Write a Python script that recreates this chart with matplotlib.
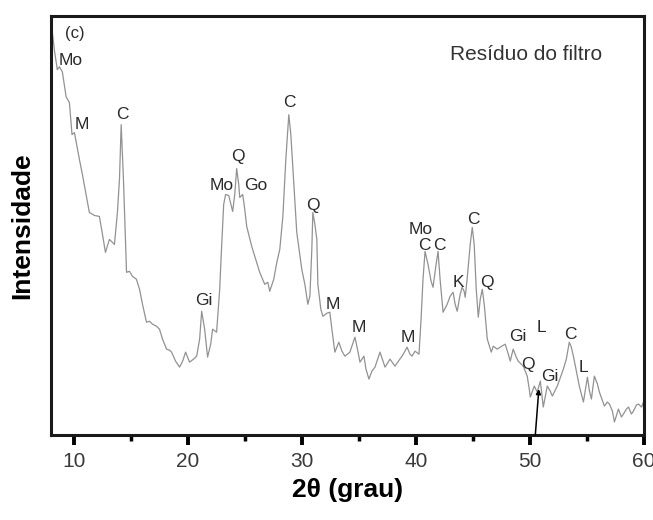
import matplotlib
matplotlib.use("Agg")
import matplotlib.pyplot as plt
from matplotlib.ticker import MultipleLocator

plt.rcParams['font.family'] = ['Liberation Sans', 'DejaVu Sans']

# difratograma (2theta em graus, intensidade em u.a.)
two_theta = [8.10, 8.30, 8.56, 8.74, 9.00, 9.33, 9.62, 9.85, 10.06, 10.50,
             10.76, 11.08, 11.37, 11.81, 12.25, 12.52, 12.78, 13.13, 13.57, 13.83,
             14.01, 14.16, 14.36, 14.63, 14.89, 15.15, 15.50, 15.77, 16.03, 16.38,
             16.65, 16.91, 17.26, 17.52, 17.79, 18.14, 18.40, 18.58, 18.93, 19.28,
             19.55, 19.81, 20.16, 20.51, 20.78, 21.04, 21.22, 21.48, 21.74, 22.01,
             22.18, 22.53, 22.80, 22.97, 23.15, 23.32, 23.59, 23.94, 24.12, 24.29,
             24.47, 24.56, 24.82, 25.00, 25.17, 25.61, 25.96, 26.31, 26.75, 27.02,
             27.19, 27.54, 27.81, 28.07, 28.34, 28.60, 28.86, 29.04, 29.21, 29.56,
             30.00, 30.27, 30.53, 30.71, 30.88, 30.97, 31.15, 31.32, 31.41, 31.67,
             31.85, 32.20, 32.46, 32.64, 32.90, 33.25, 33.52, 33.78, 34.22, 34.66,
             34.92, 35.10, 35.45, 35.63, 35.89, 36.15, 36.42, 36.86, 37.30, 37.74,
             38.17, 38.61, 38.79, 39.05, 39.23, 39.49, 39.67, 39.93, 40.28, 40.46,
             40.63, 40.81, 41.07, 41.34, 41.51, 41.78, 41.95, 42.13, 42.39, 42.75,
             43.01, 43.27, 43.45, 43.63, 43.89, 44.06, 44.24, 44.33, 44.50, 44.77,
             44.95, 45.12, 45.30, 45.48, 45.65, 45.83, 46.00, 46.27, 46.62, 46.79,
             47.14, 47.40, 47.84, 48.11, 48.28, 48.54, 48.81, 48.98, 49.42, 49.60,
             49.77, 49.95, 50.04, 50.39, 50.65, 50.92, 51.18, 51.53, 51.79, 51.97,
             52.41, 52.94, 53.20, 53.46, 53.64, 53.82, 54.08, 54.34, 54.70, 55.05,
             55.23, 55.40, 55.66, 55.93, 56.10, 56.54, 56.80, 56.98, 57.24, 57.42,
             57.77, 58.03, 58.21, 58.47, 58.65, 58.91, 59.09, 59.35, 59.53, 59.79,
             59.96, 60.00]
intensity = [406, 386, 366, 369, 364, 339, 333, 301, 303, 276,
             261, 241, 223, 220, 219, 201, 183, 196, 191, 223,
             256, 311, 256, 163, 164, 159, 156, 146, 131, 113,
             114, 111, 109, 106, 96, 86, 85, 83, 74, 68,
             74, 83, 73, 76, 79, 96, 124, 106, 78, 91,
             106, 103, 146, 189, 231, 241, 240, 224, 241, 267,
             251, 238, 241, 226, 209, 189, 176, 163, 151, 153,
             144, 156, 173, 186, 219, 276, 321, 301, 269, 203,
             166, 151, 131, 139, 186, 223, 211, 196, 151, 126,
             119, 122, 123, 106, 83, 93, 84, 79, 83, 98,
             84, 73, 79, 66, 56, 64, 68, 83, 68, 76,
             69, 76, 79, 84, 88, 81, 79, 84, 81, 116,
             156, 184, 171, 154, 148, 171, 184, 156, 123, 131,
             139, 143, 131, 124, 141, 148, 144, 138, 156, 191,
             208, 191, 146, 118, 136, 146, 131, 96, 83, 89,
             86, 88, 91, 81, 74, 86, 78, 74, 69, 64,
             59, 46, 38, 49, 43, 54, 28, 49, 44, 39,
             49, 66, 76, 93, 88, 79, 64, 49, 33, 58,
             44, 36, 59, 51, 43, 29, 33, 31, 24, 13,
             26, 18, 21, 26, 28, 21, 24, 30, 31, 28,
             33, 13]

# identificacao das fases
peak_names = ['Mo', 'M', 'C', 'Gi', 'Mo', 'Q', 'Go', 'C', 'Q', 'M', 'M', 'M',
              'Mo', 'C', 'C', 'K', 'C', 'Q', 'Gi', 'L', 'Q', 'Gi', 'C', 'L']
peak_x = [9.75, 10.72, 14.27, 21.39, 22.95, 24.38, 25.94, 28.95, 30.97, 32.68,
          34.97, 39.34, 40.44, 40.72, 42.05, 43.71, 45.03, 46.27, 48.94, 51.00,
          49.82, 51.71, 53.58, 54.72]
peak_y = [375, 311, 321, 135, 250, 279, 250, 333, 230, 131,
          108, 98, 206, 190, 190, 153, 216, 153, 99, 108,
          71, 59, 101, 68]

fig = plt.figure(figsize=(6.53, 5.2), dpi=100)
ax = fig.add_axes([0.078, 0.1635, 0.908, 0.806])

ax.plot(two_theta, intensity, color='#929292', lw=0.9)

for name, px, py in zip(peak_names, peak_x, peak_y):
    ax.text(px, py, name, ha='center', va='center', fontsize=12.5, color='#2a2a2a')

# seta indicando o pico em ~50.8
ax.annotate('', xy=(50.79, 46), xytext=(50.48, 0),
            arrowprops=dict(arrowstyle='-|>', color='black', lw=1.1,
                            mutation_scale=7, shrinkA=0, shrinkB=0))

ax.text(0.040, 0.957, '(c)', transform=ax.transAxes, ha='center', va='center',
        fontsize=12, color='#2a2a2a')
ax.text(0.801, 0.907, 'Resíduo do filtro', transform=ax.transAxes, ha='center',
        va='center', fontsize=15, color='#333333')

ax.set_xlim(8, 60)
ax.set_ylim(0, 420)
ax.xaxis.set_major_locator(MultipleLocator(10))
ax.xaxis.set_minor_locator(MultipleLocator(5))
ax.tick_params(axis='x', which='major', direction='out', length=7, width=2.8,
               labelsize=15, colors='black', labelcolor='#3a3a3a', pad=5)
ax.tick_params(axis='x', which='minor', direction='out', length=4.5, width=2.5)
ax.set_yticks([])

for sp in ax.spines.values():
    sp.set_linewidth(2.2)
    sp.set_color('#1a1a1a')

ax.set_xlabel('2θ (grau)', fontsize=19, fontweight='bold', labelpad=5)
ax.set_ylabel('Intensidade', fontsize=19, fontweight='bold', labelpad=12)

fig.savefig('out.png', dpi=100)
